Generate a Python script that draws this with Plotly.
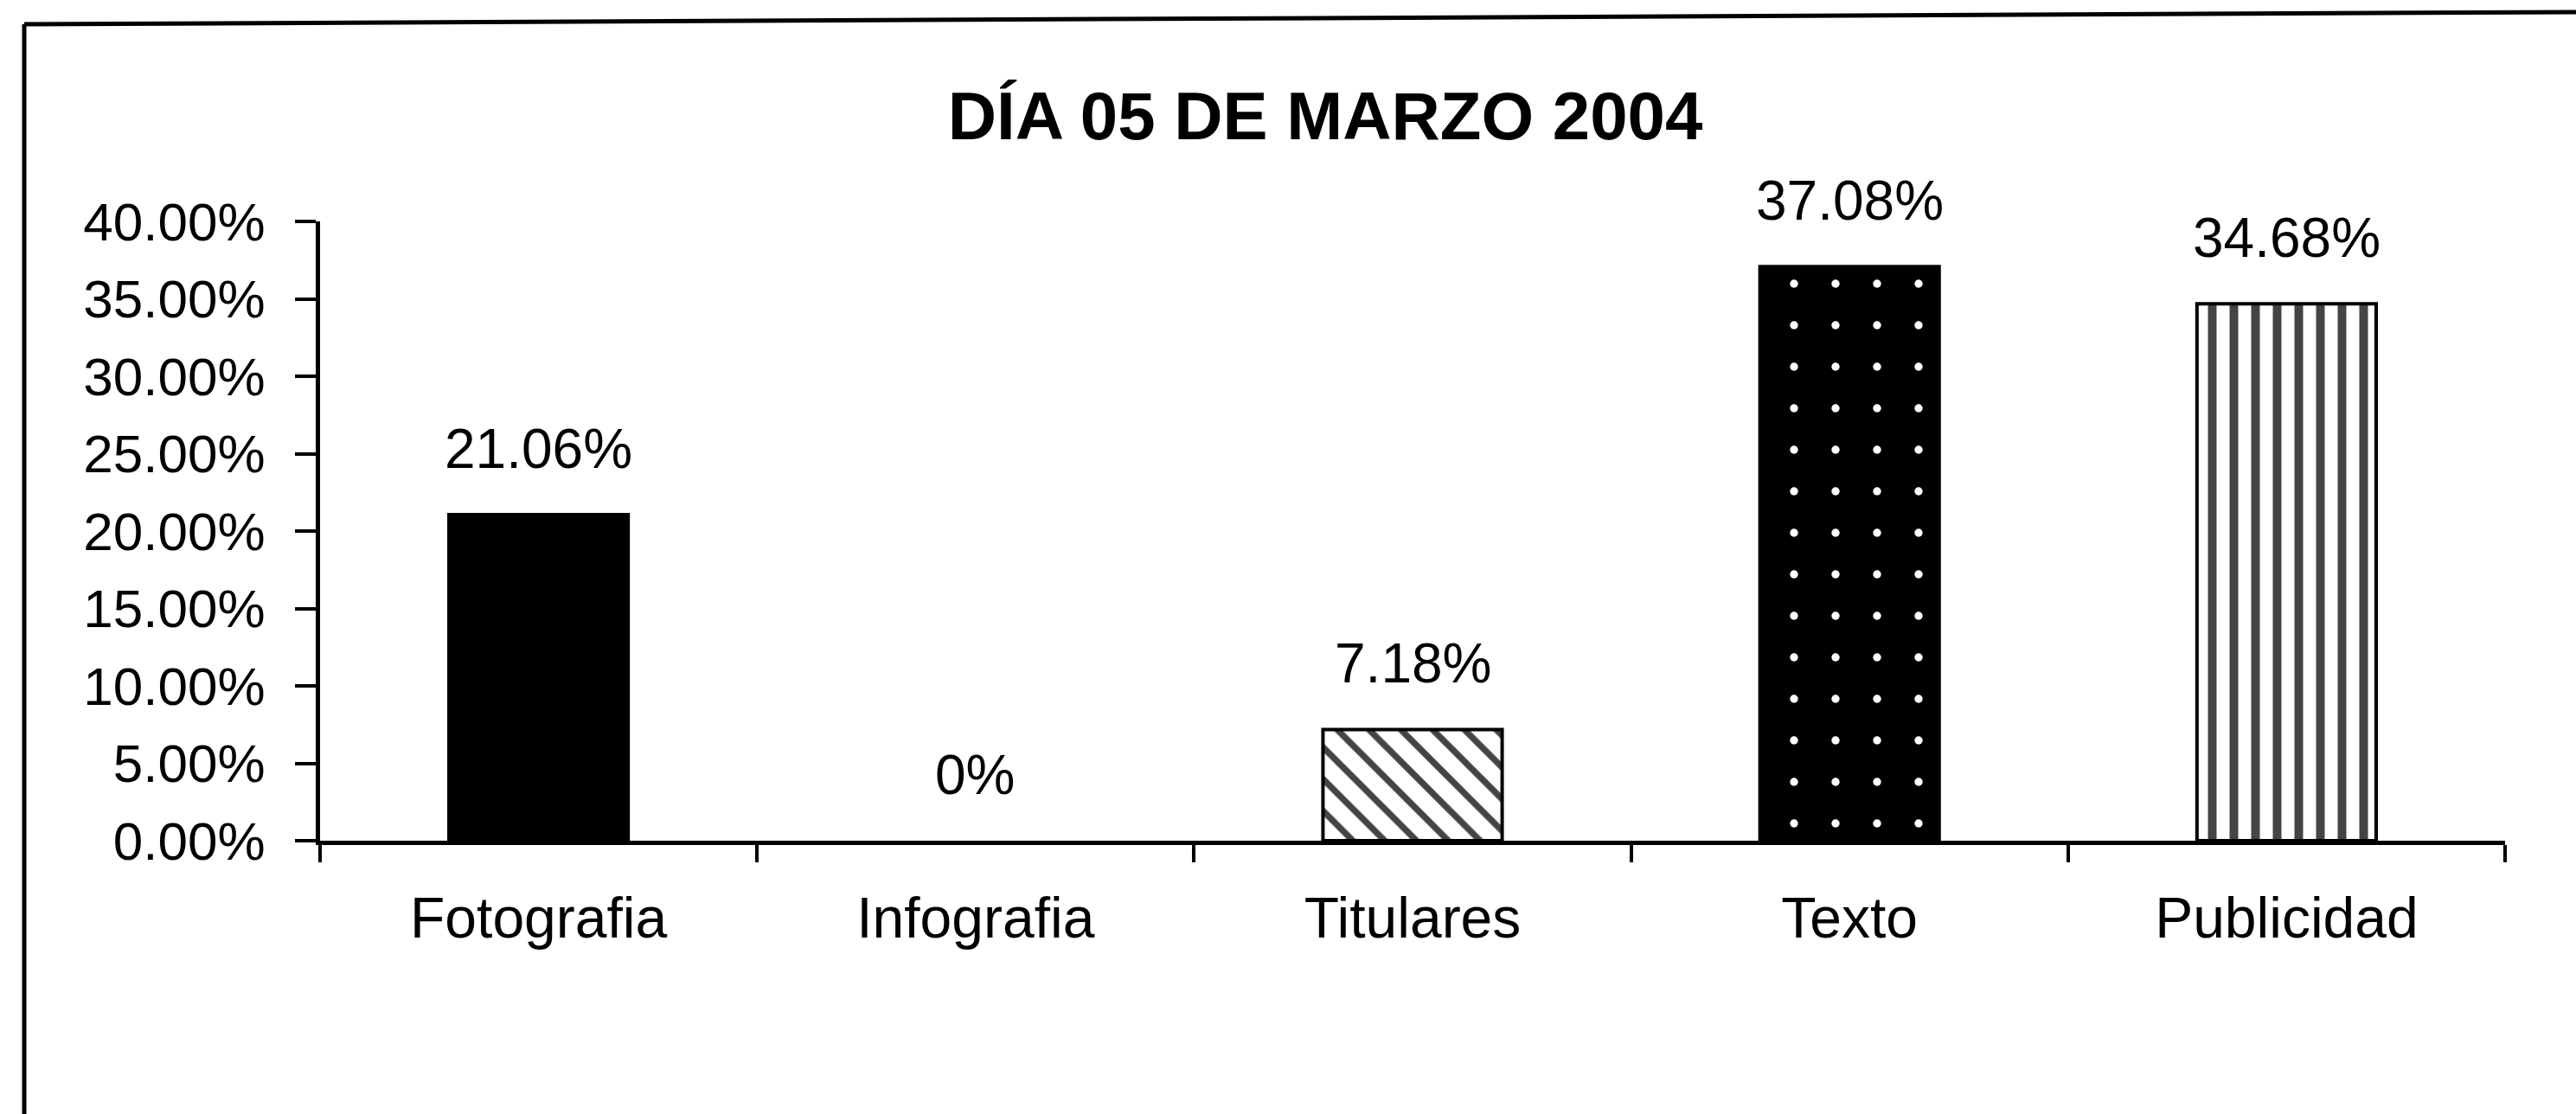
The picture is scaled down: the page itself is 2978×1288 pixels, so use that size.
import plotly.graph_objects as go

# Chart data
categories = ["Fotografia", "Infografia", "Titulares", "Texto", "Publicidad"]
values = [21.06, 0.0, 7.18, 37.08, 34.68]
value_labels = ["21.06%", "0%", "7.18%", "37.08%", "34.68%"]
y_ticks = [0, 5, 10, 15, 20, 25, 30, 35, 40]
y_tick_labels = [f"{v:.2f}%" for v in y_ticks]
title_text = "DÍA 05 DE MARZO 2004"

# Fill style of each bar (Infografia has no visible bar)
fill_colors = ["black", "white", "white", "black", "white"]
outline_widths = [4, 0, 4, 4, 4]
pattern_shapes = ["", "", "\\", ".", "|"]
pattern_fg = ["black", "black", "black", "white", "black"]
pattern_size = [20, 20, 26, 48, 25]
pattern_solidity = [0.3, 0.3, 0.28, 0.03, 0.4]

W, H = 2978, 1288
M_L, M_R, M_T, M_B = 370, 82, 256, 316
FONT = "Arial, Liberation Sans, sans-serif"

fig = go.Figure()
fig.add_trace(go.Bar(
    x=categories,
    y=values,
    marker=dict(
        color=fill_colors,
        line=dict(color="black", width=outline_widths),
        pattern=dict(
            shape=pattern_shapes,
            fgcolor=pattern_fg,
            fgopacity=1,
            size=pattern_size,
            solidity=pattern_solidity,
            fillmode="overlay",
        ),
    ),
    hoverinfo="skip",
    showlegend=False,
))

# Value labels above each bar
for cat, val, lab in zip(categories, values, value_labels):
    fig.add_annotation(
        x=cat, y=val, xref="x", yref="y",
        text=lab, showarrow=False,
        yanchor="middle", yshift=76,
        font=dict(family=FONT, size=64, color="black"),
    )

# Outer frame of the chart area (left and top edges)
plot_w = W - M_L - M_R
plot_h = H - M_T - M_B


def px_x(p):
    return (p - M_L) / plot_w


def px_y(p):
    return (H - M_B - p) / plot_h


frame = dict(color="black", width=5)
fig.add_shape(type="line", xref="paper", yref="paper",
              x0=px_x(28), y0=px_y(H), x1=px_x(28), y1=px_y(28), line=frame)
fig.add_shape(type="line", xref="paper", yref="paper",
              x0=px_x(28), y0=px_y(28), x1=px_x(W), y1=px_y(14), line=frame)

fig.update_layout(
    width=W, height=H,
    margin=dict(l=M_L, r=M_R, t=M_T, b=M_B, pad=0),
    paper_bgcolor="white",
    plot_bgcolor="white",
    bargap=0.59,
    font=dict(family=FONT, color="black"),
    title=dict(
        text="<b>" + title_text + "</b>",
        x=px_x(1532), xref="paper", xanchor="center",
        y=1 - 134 / H, yref="container", yanchor="middle",
        font=dict(family=FONT, size=78, color="black"),
    ),
    xaxis=dict(
        type="category",
        showline=True, linecolor="black", linewidth=5,
        ticks="outside", tickson="boundaries", ticklen=20,
        tickwidth=4, tickcolor="black",
        showgrid=False, zeroline=False,
        tickfont=dict(family=FONT, size=66, color="black"),
        ticklabelstandoff=28,
    ),
    yaxis=dict(
        range=[0, 40],
        tickmode="array",
        tickvals=y_ticks,
        ticktext=y_tick_labels,
        showline=True, linecolor="black", linewidth=5,
        ticks="outside", ticklen=24, tickwidth=4, tickcolor="black",
        showgrid=False, zeroline=False,
        tickfont=dict(family=FONT, size=62, color="black"),
        ticklabelstandoff=22,
    ),
)

fig.write_html("out.html")
